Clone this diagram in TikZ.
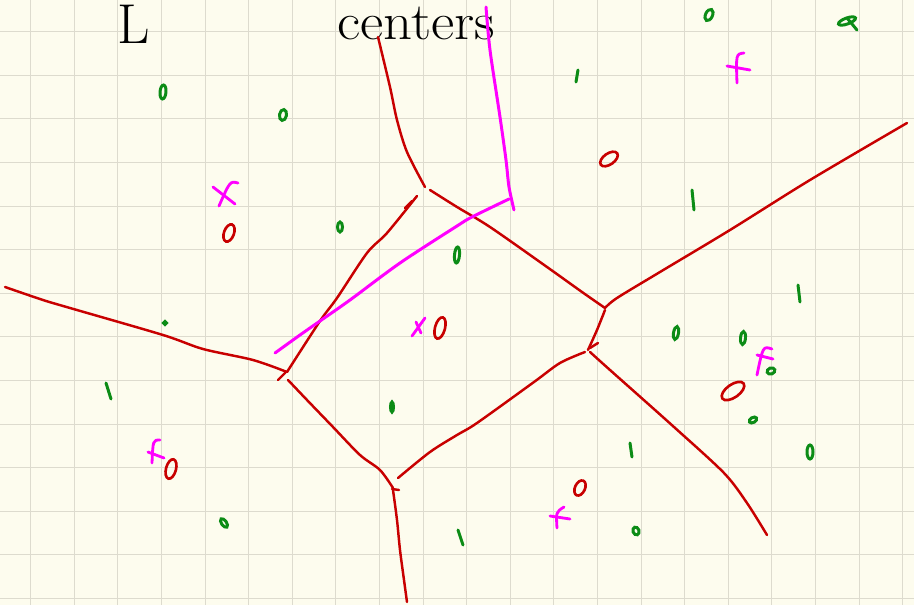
\documentclass[tikz,border=0pt]{standalone}
\usepackage{xcolor}
\definecolor{paper}{RGB}{253,252,238}
\definecolor{gridc}{RGB}{221,219,206}
\definecolor{vred}{RGB}{200,0,0}
\definecolor{vgreen}{RGB}{12,140,22}
\definecolor{vmag}{RGB}{255,0,255}
\newcommand{\site}[6]{\draw[#1, rotate around={#6:(#2,#3)}] (#2,#3) ellipse [x radius=#4, y radius=#5];}

\begin{document}
\begin{tikzpicture}[x=0.02cm, y=-0.02cm, smooth,
  edge/.style={vred, line width=1.4pt, line cap=round},
  bis/.style={vmag, line width=1.7pt, line cap=round},
  seed/.style={vgreen, line width=1.7pt, line cap=round},
  ctr/.style={vred, line width=1.5pt},
  xmark/.style={vmag, line width=1.6pt, line cap=round}]
\fill[paper] (0,0) rectangle (914,605);
\useasboundingbox (0,0) rectangle (914,605);
\foreach \i in {0,...,20} \draw[gridc, line width=0.6pt] ({30.7+43.6*\i},0) -- ++(0,605);
\foreach \i in {0,...,13} \draw[gridc, line width=0.6pt] (0,{31.7+43.6*\i}) -- ++(914,0);
% text
\node[anchor=base, inner sep=0pt, font=\fontsize{32}{34}\selectfont] (lbl) at (134,44) {L};
\node[anchor=base, inner sep=0pt, font=\fontsize{30}{32}\selectfont, xscale=1.08] (title) at (416,39) {centers};
% red edges
\draw[edge] plot coordinates {(378,37) (390,87) (397,120) (407,152) (425,187)};
\draw[edge] plot coordinates {(417,196) (387,233) (367,253) (337,298) (320,321) (287,372)};
\draw[edge] (405,208) -- (412,201);
\draw[edge] plot coordinates {(430,190) (457,207) (490,227) (547,267) (582,292) (605,308)};
\draw[edge] plot coordinates {(605,308) (617,298) (660,272) (730,230) (810,180) (907,123)};
\draw[edge] plot coordinates {(605,310) (597,330) (588,350)};
\draw[edge] (590,348) -- (598,343);
\draw[edge] plot coordinates {(590,352) (610,370) (674,427) (724,473) (747,503) (767,535)};
\draw[edge] plot coordinates {(585,352) (560,363) (534,382) (477,423) (457,435) (430,452) (398,478)};
\draw[edge] plot coordinates {(5,287) (43,300) (70,308) (163,335) (203,349) (253,360) (287,372)};
\draw[edge] (278,380) -- (285,373);
\draw[edge] plot coordinates {(288,380) (307,400) (333,427) (360,455) (380,470) (393,488)};
\draw[edge] plot coordinates {(393,490) (397,520) (400,550) (404,580) (407,602)};
\draw[edge] (392,489) -- (399,490);
% magenta bisector
\draw[bis] plot coordinates {(275,353) (300,335) (320,321) (350,300) (400,263) (457,226) (472,217) (509,199)};
\draw[bis] plot coordinates {(514,210) (509,187) (506,160) (500,117) (490,50) (486,7)};
% red centers
\site{ctr}{609}{159}{10}{5.5}{35}
\site{ctr}{229}{233}{5}{9}{-20}
\site{ctr}{440}{328}{5}{11}{-15}
\site{ctr}{171}{469}{5}{10}{-15}
\site{ctr}{733}{391}{13}{6.5}{35}
\site{ctr}{580}{488}{5}{8}{-25}
% magenta marks
\draw[xmark] (213,187) -- (235,204);
\draw[xmark] (238,183) .. controls (230,181) .. (219,206);
\draw[xmark] (425,318) -- (412,336);
\draw[xmark] (416,322) -- (421,333);
\draw[xmark] (160,440) .. controls (153,440) .. (152,463);
\draw[xmark] (148,452) -- (164,458);
\draw[xmark] (744,53) .. controls (736,54) .. (737,83);
\draw[xmark] (727,66) -- (750,70);
\draw[xmark] (772,349) .. controls (763,346) .. (757,375);
\draw[xmark] (757,355) -- (773,359);
\draw[xmark] (564,507) .. controls (556,512) .. (557,528);
\draw[xmark] (550,516) -- (570,519);
% green points
\site{seed}{163}{92}{3}{7}{-5}
\site{seed}{283}{115}{3.5}{5.5}{-10}
\site{seed}{340}{227}{2.5}{5}{0}
\site{seed}{457}{255}{2.5}{8}{-5}
\site{seed}{165}{323}{1.5}{1.5}{0}
\draw[seed] (106,383) -- (111,399);
\site{seed}{392}{407}{1.5}{5}{0}
\site{seed}{224}{523}{2.5}{5}{35}
\draw[seed] (458,530) -- (463,545);
\site{seed}{709}{15}{3.5}{6}{-25}
\site{seed}{847}{21}{9}{3}{20}
\draw[seed] (847,18) -- (857,30);
\draw[seed] (576,82) -- (578,70);
\draw[seed] (692,190) -- (694,210);
\draw[seed] (798,285) -- (800,302);
\site{seed}{676}{333}{2.5}{6.5}{-10}
\site{seed}{743}{338}{2.5}{6.5}{-5}
\site{seed}{771}{371}{4}{3}{20}
\site{seed}{753}{420}{4}{2.5}{30}
\draw[seed] (630,443) -- (632,457);
\site{seed}{810}{452}{3}{7}{0}
\site{seed}{636}{531}{3}{4}{20}
\end{tikzpicture}
\end{document}
